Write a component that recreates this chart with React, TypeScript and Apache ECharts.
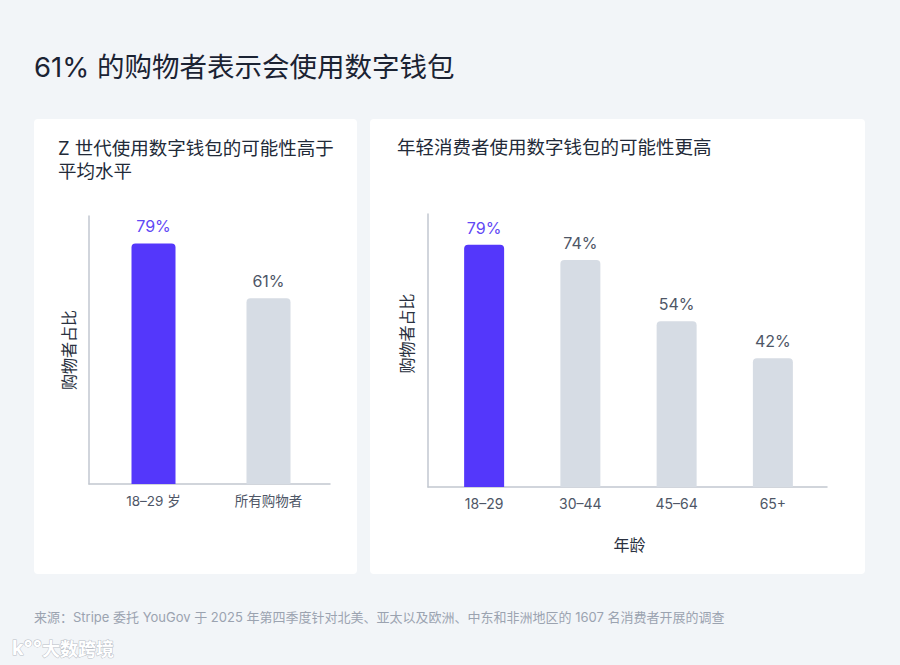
import React, { useEffect, useRef } from "react";
import * as echarts from "echarts";

const mainTitle = "61% 的购物者表示会使用数字钱包";
const leftTitle = ["Z 世代使用数字钱包的可能性高于", "平均水平"];
const rightTitle = "年轻消费者使用数字钱包的可能性更高";
const footer = "来源：Stripe 委托 YouGov 于 2025 年第四季度针对北美、亚太以及欧洲、中东和非洲地区的 1607 名消费者开展的调查";

const leftCategories = ["18–29 岁", "所有购物者"];
const leftValues = [79, 61];
const rightCategories = ["18–29", "30–44", "45–64", "65+"];
const rightValues = [79, 74, 54, 42];
const yName = "购物者占比";
const xNameRight = "年龄";

const PURPLE = "#5437fb";
const PURPLE_TEXT = "#6148f5";
const GRAY_BAR = "#d6dce4";
const AXIS = "#c2c7d0";
const TEXT = "#4e5666";
const FONT = "Inter, 'Noto Sans CJK SC', sans-serif";

function barData(values: number[]) {
  return values.map((v, i) => ({
    value: v,
    itemStyle: { color: i === 0 ? PURPLE : GRAY_BAR, borderRadius: [4, 4, 0, 0] },
    label: { color: i === 0 ? PURPLE_TEXT : TEXT },
  }));
}

export default function App() {
  const ref = useRef<HTMLDivElement>(null);
  useEffect(() => {
    const chart = echarts.init(ref.current!, null, { renderer: "svg" });
    const line = { show: true, lineStyle: { color: AXIS, width: 1.5 } };
    const hidden = { axisLine: { show: false }, axisTick: { show: false }, splitLine: { show: false }, axisLabel: { show: false } };
    chart.setOption({
      animation: false,
      backgroundColor: "#f2f5f8",
      textStyle: { fontFamily: FONT },
      graphic: [
        { type: "rect", shape: { x: 34, y: 119, width: 323, height: 455, r: 4 }, style: { fill: "#ffffff" }, z: -10 },
        { type: "rect", shape: { x: 370, y: 119, width: 495, height: 455, r: 4 }, style: { fill: "#ffffff" }, z: -10 },
        { type: "text", x: 34, y: 67, style: { text: mainTitle, font: `400 27.5px ${FONT}`, fill: "#1b2333", verticalAlign: "middle" } },
        { type: "text", x: 58, y: 148, style: { text: leftTitle[0], font: `400 18.5px ${FONT}`, fill: "#222a38", verticalAlign: "middle" } },
        { type: "text", x: 58, y: 171, style: { text: leftTitle[1], font: `400 18.5px ${FONT}`, fill: "#222a38", verticalAlign: "middle" } },
        { type: "text", x: 397, y: 147, style: { text: rightTitle, font: `400 18.5px ${FONT}`, fill: "#222a38", verticalAlign: "middle" } },
        { type: "text", x: 34, y: 617, style: { text: footer, font: `13px ${FONT}`, fill: "#9ba3b0", verticalAlign: "middle" } },
        { type: "text", x: 12, y: 648, style: { text: "k°°", font: `bold 20px ${FONT}`, fill: "#ffffff", stroke: "#b9bec6", lineWidth: 1, verticalAlign: "middle" } },
        { type: "text", x: 42, y: 649, style: { text: "大数跨境", font: `bold 18px ${FONT}`, fill: "#ffffff", stroke: "#b9bec6", lineWidth: 1, verticalAlign: "middle" } },
      ],
      grid: [
        { left: 89, right: 570, top: 216, bottom: 181 },
        { left: 96, right: 574, top: 216, bottom: 181 },
        { left: 428, right: 73, top: 214, bottom: 178 },
        { left: 436, right: 79, top: 214, bottom: 178 },
      ],
      xAxis: [
        { type: "value", gridIndex: 0, min: 0, max: 1, ...hidden, axisLine: line },
        {
          type: "category", gridIndex: 1, data: leftCategories, axisLine: { show: false }, axisTick: { show: false },
          axisLabel: { color: TEXT, fontSize: 13.5, margin: 10, fontFamily: FONT },
        },
        {
          type: "value", gridIndex: 2, min: 0, max: 1, ...hidden, axisLine: line,
          name: xNameRight, nameLocation: "middle", nameGap: 50,
          nameTextStyle: { color: "#2a3140", fontSize: 16, fontFamily: FONT, padding: [0, 0, 0, 4] },
        },
        {
          type: "category", gridIndex: 3, data: rightCategories, axisLine: { show: false }, axisTick: { show: false },
          axisLabel: { color: TEXT, fontSize: 14, margin: 9, fontFamily: FONT },
        },
      ],
      yAxis: [
        {
          type: "value", gridIndex: 0, min: 0, max: 88, ...hidden, axisLine: line,
          name: yName, nameLocation: "middle", nameGap: 12,
          nameTextStyle: { color: "#2a3140", fontSize: 16, fontFamily: FONT },
        },
        { type: "value", gridIndex: 1, min: 0, max: 88, ...hidden },
        {
          type: "value", gridIndex: 2, min: 0, max: 89, ...hidden, axisLine: line,
          name: yName, nameLocation: "middle", nameGap: 13,
          nameTextStyle: { color: "#2a3140", fontSize: 16, fontFamily: FONT, padding: [0, 0, 0, 34] },
        },
        { type: "value", gridIndex: 3, min: 0, max: 89, ...hidden },
      ],
      series: [
        {
          type: "bar", xAxisIndex: 1, yAxisIndex: 1, barWidth: 44, data: barData(leftValues),
          label: { show: true, position: "top", distance: 9, fontSize: 16, formatter: "{c}%", fontFamily: FONT },
        },
        {
          type: "bar", xAxisIndex: 3, yAxisIndex: 3, barWidth: 40, data: barData(rightValues),
          label: { show: true, position: "top", distance: 9, fontSize: 16, formatter: "{c}%", fontFamily: FONT },
        },
      ],
    });
    return () => chart.dispose();
  }, []);
  return <div ref={ref} style={{ position: "fixed", left: 0, top: 0, width: 900, height: 665 }} />;
}
